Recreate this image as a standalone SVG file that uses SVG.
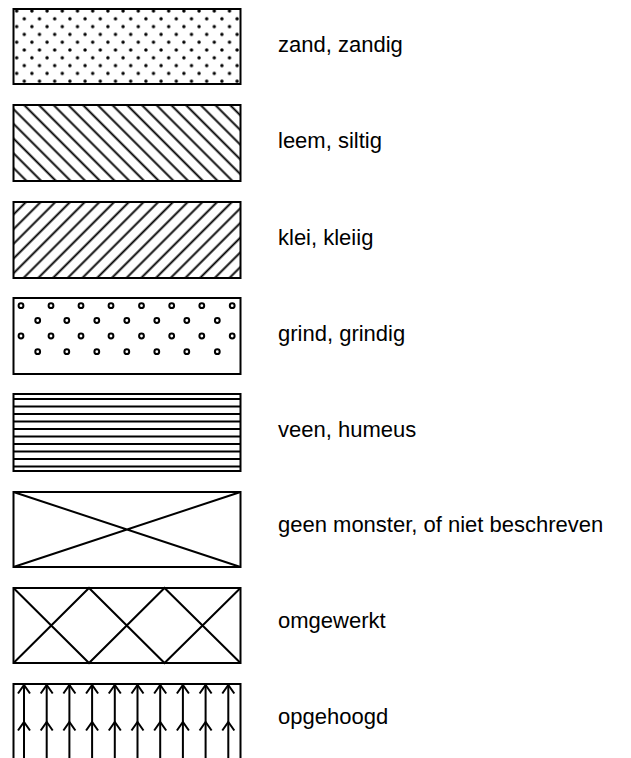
<svg xmlns="http://www.w3.org/2000/svg" width="631" height="758" viewBox="0 0 631 758">
<style>
  .box { fill: none; stroke: #000; stroke-width: 2; }
  .ln { stroke: #000; stroke-width: 2; fill: none; }
  .lbl { font-family: "Liberation Sans", Arial, sans-serif; font-size: 22px; fill: #000; }
  .ring { fill: none; stroke: #000; stroke-width: 2; }
</style>
<defs>
  <pattern id="pDots" patternUnits="userSpaceOnUse" x="16.7" y="11" width="15.2" height="15.6">
    <circle cx="0" cy="0" r="1.7" fill="#000"/>
    <circle cx="15.2" cy="0" r="1.7" fill="#000"/>
    <circle cx="0" cy="15.6" r="1.7" fill="#000"/>
    <circle cx="15.2" cy="15.6" r="1.7" fill="#000"/>
    <circle cx="7.6" cy="7.8" r="1.7" fill="#000"/>
  </pattern>
  <pattern id="pDown" patternUnits="userSpaceOnUse" width="10.4" height="10.4" patternTransform="rotate(45)">
    <line x1="-5" y1="5.2" x2="20" y2="5.2" stroke="#000" stroke-width="1.9"/>
  </pattern>
  <pattern id="pUp" patternUnits="userSpaceOnUse" width="10.4" height="10.4" patternTransform="rotate(-45)">
    <line x1="-5" y1="5.2" x2="20" y2="5.2" stroke="#000" stroke-width="1.9"/>
  </pattern>
  <g id="ring"><circle r="2.4" class="ring"/></g>
  <path id="chev" d="M-6,8.5 L0,0 L6,8.5" class="ln"/>
</defs>

<g id="zand">
  <rect x="13.5" y="9" width="227" height="75" fill="url(#pDots)"/>
  <rect x="13.5" y="9" width="227" height="75" class="box"/>
  <text class="lbl" x="278" y="52">zand, zandig</text>
</g>

<g id="leem">
  <rect x="13.5" y="105" width="227" height="76" fill="url(#pDown)"/>
  <rect x="13.5" y="105" width="227" height="76" class="box"/>
  <text class="lbl" x="278" y="148">leem, siltig</text>
</g>

<g id="klei">
  <rect x="13.5" y="202" width="227" height="76" fill="url(#pUp)"/>
  <rect x="13.5" y="202" width="227" height="76" class="box"/>
  <text class="lbl" x="278" y="244.5">klei, kleiig</text>
</g>

<g id="grind">
  <rect x="13.5" y="298" width="227" height="76" class="box"/>
  <g>
    <use href="#ring" x="21" y="305.7"/><use href="#ring" x="51" y="305.7"/><use href="#ring" x="81" y="305.7"/><use href="#ring" x="111" y="305.7"/>
    <use href="#ring" x="141.5" y="305.7"/><use href="#ring" x="171.7" y="305.7"/><use href="#ring" x="201.8" y="305.7"/><use href="#ring" x="232.2" y="305.7"/>
    <use href="#ring" x="37.7" y="320.5"/><use href="#ring" x="66.8" y="320.5"/><use href="#ring" x="96.8" y="320.5"/><use href="#ring" x="126.8" y="320.5"/>
    <use href="#ring" x="156.8" y="320.5"/><use href="#ring" x="186.8" y="320.5"/><use href="#ring" x="217.3" y="320.5"/>
    <use href="#ring" x="21" y="336"/><use href="#ring" x="51" y="336"/><use href="#ring" x="81" y="336"/><use href="#ring" x="111" y="336"/>
    <use href="#ring" x="141.5" y="336"/><use href="#ring" x="171.7" y="336"/><use href="#ring" x="201.8" y="336"/><use href="#ring" x="232.2" y="336"/>
    <use href="#ring" x="37.7" y="351.7"/><use href="#ring" x="66.8" y="351.7"/><use href="#ring" x="96.8" y="351.7"/><use href="#ring" x="126.8" y="351.7"/>
    <use href="#ring" x="156.8" y="351.7"/><use href="#ring" x="186.8" y="351.7"/><use href="#ring" x="217.3" y="351.7"/>
  </g>
  <text class="lbl" x="278" y="340.5">grind, grindig</text>
</g>

<g id="veen">
  <rect x="13.5" y="394" width="227" height="77" class="box"/>
  <path d="M13.5,399 H240.5 M13.5,406.5 H240.5 M13.5,414 H240.5 M13.5,421.5 H240.5 M13.5,429 H240.5 M13.5,436.5 H240.5 M13.5,444 H240.5 M13.5,451.5 H240.5 M13.5,459 H240.5 M13.5,466.5 H240.5" class="ln"/>
  <text class="lbl" x="278" y="436.5">veen, humeus</text>
</g>

<g id="geen-monster">
  <rect x="13.5" y="492" width="227" height="75" class="box"/>
  <path d="M13.5,492 L240.5,567 M13.5,567 L240.5,492" class="ln"/>
  <text class="lbl" x="278" y="531.5">geen monster, of niet beschreven</text>
</g>

<g id="omgewerkt">
  <rect x="13.5" y="588" width="227" height="75" class="box"/>
  <path d="M13.5,588 L89,663 L164.5,588 L240.5,663 M13.5,663 L89,588 L164.5,663 L240.5,588" class="ln"/>
  <text class="lbl" x="278" y="627.5">omgewerkt</text>
</g>

<g id="opgehoogd">
  <path d="M13.5,760 L13.5,684 L240.5,684 L240.5,760" class="box"/>
  <g>
    <path d="M24,684 V760 M46.7,684 V760 M69.4,684 V760 M92.1,684 V760 M114.8,684 V760 M137.5,684 V760 M160.2,684 V760 M182.9,684 V760 M205.6,684 V760 M228.3,684 V760" class="ln"/>
    <use href="#chev" x="24" y="685"/><use href="#chev" x="46.7" y="685"/><use href="#chev" x="69.4" y="685"/><use href="#chev" x="92.1" y="685"/><use href="#chev" x="114.8" y="685"/>
    <use href="#chev" x="137.5" y="685"/><use href="#chev" x="160.2" y="685"/><use href="#chev" x="182.9" y="685"/><use href="#chev" x="205.6" y="685"/><use href="#chev" x="228.3" y="685"/>
    <use href="#chev" x="24" y="722"/><use href="#chev" x="46.7" y="722"/><use href="#chev" x="69.4" y="722"/><use href="#chev" x="92.1" y="722"/><use href="#chev" x="114.8" y="722"/>
    <use href="#chev" x="137.5" y="722"/><use href="#chev" x="160.2" y="722"/><use href="#chev" x="182.9" y="722"/><use href="#chev" x="205.6" y="722"/><use href="#chev" x="228.3" y="722"/>
  </g>
  <text class="lbl" x="278" y="724">opgehoogd</text>
</g>
</svg>
